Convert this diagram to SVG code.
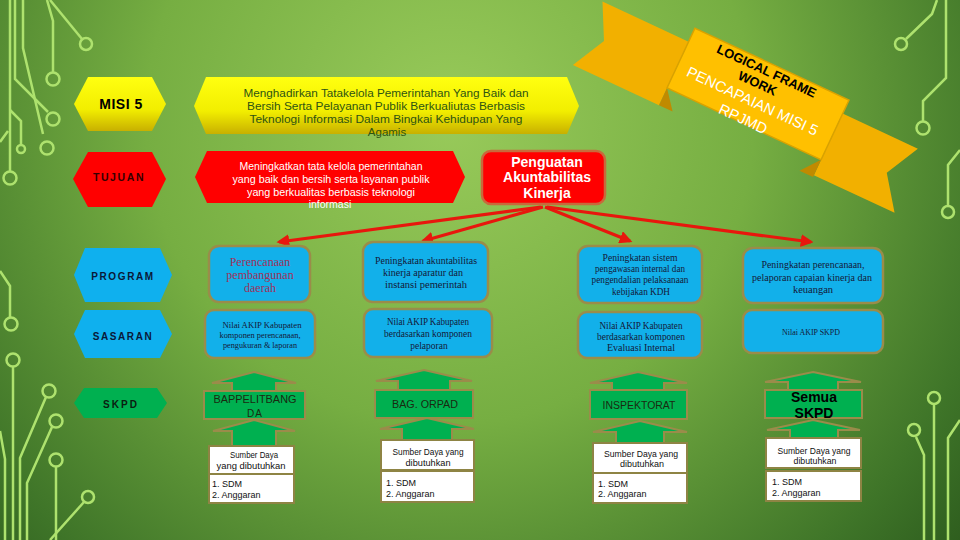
<svg xmlns="http://www.w3.org/2000/svg" width="960" height="540" viewBox="0 0 960 540">
<defs>
<radialGradient id="bg" cx="450" cy="120" r="760" gradientUnits="userSpaceOnUse">
<stop offset="0" stop-color="#98ca5a"/>
<stop offset="0.4" stop-color="#76ae42"/>
<stop offset="0.75" stop-color="#3e7428"/>
<stop offset="1" stop-color="#1e4614"/>
</radialGradient>
<linearGradient id="yel" x1="0" y1="0" x2="0" y2="1">
<stop offset="0" stop-color="#ffff10"/>
<stop offset="0.6" stop-color="#f2ee00"/>
<stop offset="1" stop-color="#c8b000"/>
</linearGradient>
<marker id="ah" viewBox="0 0 10 10" refX="8" refY="5" markerWidth="4" markerHeight="4" orient="auto" markerUnits="strokeWidth">
<path d="M0,0 L10,5 L0,10 z" fill="#e8170d"/>
</marker>
<style>
.cir{fill:none;stroke:#aee26e;stroke-width:2.5}
.lbl{font-family:"Liberation Sans",Arial,sans-serif;font-weight:bold;text-anchor:middle}
.sans{font-family:"Liberation Sans",Arial,sans-serif;text-anchor:middle}
.serif{font-family:"Liberation Serif","Times New Roman",serif;text-anchor:middle}
.blue{fill:#12b0ea;stroke:#9a8c4a;stroke-width:2.5}
.arr{fill:#00b050;stroke:#9a8c4a;stroke-width:2}
.wb{fill:#ffffff;stroke:#8e8444;stroke-width:2}
.red{stroke:#e8170d;stroke-width:3.2;fill:none}
.lst{font-family:"Liberation Sans",Arial,sans-serif;font-size:9px;fill:#111}
</style>
</defs>
<rect width="960" height="540" fill="url(#bg)"/>

<g id="circuit">
<path class="cir" d="M10,0 V171"/><circle class="cir" cx="10" cy="178" r="6.5"/>
<path class="cir" d="M23,0 V48 L43,134"/><circle class="cir" cx="47" cy="148" r="6.5"/>
<path class="cir" d="M15,0 V79 L48,112"/><circle class="cir" cx="53" cy="119" r="6.5"/>
<path class="cir" d="M47,0 L53,21 V72"/><circle class="cir" cx="53" cy="79" r="6.5"/>
<path class="cir" d="M50,0 L82,39"/><circle class="cir" cx="86" cy="44" r="6"/>
<path class="cir" d="M0,142 L8,131 M10,110 L21,121 V145"/><circle class="cir" cx="21" cy="149" r="4"/>
<path class="cir" d="M0,271 L10,286 V317"/><circle class="cir" cx="11" cy="324" r="6.5"/>
<circle class="cir" cx="13" cy="360" r="6.5"/><path class="cir" d="M13,367 V540"/>
<circle class="cir" cx="49" cy="391" r="6.5"/><path class="cir" d="M46,397 L20,458 V540"/>
<circle class="cir" cx="56" cy="421" r="6.5"/><path class="cir" d="M52,427 L27,483 V540"/>
<circle class="cir" cx="56" cy="460" r="6.5"/><path class="cir" d="M56,467 V540"/>
<circle class="cir" cx="88" cy="497" r="6"/><path class="cir" d="M84,502 L50,540"/>
<path class="cir" d="M0,431 L5,459 V540"/>
<path class="cir" d="M937,0 L932,14 L906,39"/><circle class="cir" cx="901" cy="44" r="6"/>
<path class="cir" d="M946,0 V78 L923,101 V121"/><circle class="cir" cx="923" cy="128" r="6.5"/>
<path class="cir" d="M960,150 L948,165 V205"/><circle class="cir" cx="948" cy="212" r="6"/>
<circle class="cir" cx="934" cy="398" r="6"/><path class="cir" d="M934,405 V540"/>
<circle class="cir" cx="914" cy="430" r="6"/><path class="cir" d="M916,437 L924,455 V540"/>
<path class="cir" d="M960,420 L948,438 V540"/>
</g>

<g id="banner" transform="translate(758,94) rotate(25)">
<path d="M-85,-18 H-180 L-162,17 L-180,52 H-85 z" fill="#f2b000"/>
<path d="M85,-18 H168 L150,17 L174,50 H85 z" fill="#f2b000"/>
<path d="M-85,33 L-85,52 L-70,52 z" fill="#c08a00"/>
<path d="M85,33 L85,52 L70,52 z" fill="#c08a00"/>
<rect x="-85" y="-33" width="170" height="66" fill="#ffc000" stroke="#d9a200" stroke-width="1.5"/>
<text x="-2" y="-20" class="lbl" font-size="13" fill="#000">LOGICAL FRAME</text>
<text x="-5" y="-5" class="lbl" font-size="13" fill="#000">WORK</text>
<text x="-2" y="14" class="sans" font-size="15" fill="#fff">PENCAPAIAN MISI 5</text>
<text x="-3" y="34" class="sans" font-size="15" fill="#fff">RPJMD</text>
</g>

<g id="labels">
<g id="lbl-misi"><polygon points="74,104 88,77 152,77 166,104 152,131 88,131" fill="url(#yel)"/><text x="121" y="109" class="lbl" font-size="14" letter-spacing="0.5" fill="#000">MISI 5</text></g>
<g id="lbl-tujuan"><polygon points="73,179 88,152 152,152 166,179 152,207 88,207" fill="#ff0000"/><text x="119" y="181" class="lbl" font-size="10.5" letter-spacing="1.6" fill="#300">TUJUAN</text></g>
<g id="lbl-program"><polygon points="74,275 85,248 160,248 172,275 160,302 85,302" fill="#0fb0ee"/><text x="123" y="280" class="lbl" font-size="10" letter-spacing="1.6" fill="#0a1838">PROGRAM</text></g>
<g id="lbl-sasaran"><polygon points="74,334 85,310 160,310 172,334 160,358 85,358" fill="#0fb0ee"/><text x="123" y="340" class="lbl" font-size="10" letter-spacing="1.6" fill="#0a1838">SASARAN</text></g>
<g id="lbl-skpd"><polygon points="74,403 84,388 157,388 167,403 157,418 84,418" fill="#00b050"/><text x="121" y="408" class="lbl" font-size="10" letter-spacing="2" fill="#0a2010">SKPD</text></g>
</g>

<g id="misi">
<polygon points="194,106 206,77 567,77 579,106 567,134 206,134" fill="url(#yel)"/>
<g class="sans" font-size="11.5" fill="#2e5412">
<text x="386" y="97" textLength="285" lengthAdjust="spacingAndGlyphs">Menghadirkan Tatakelola Pemerintahan Yang Baik dan</text>
<text x="386" y="110" textLength="278" lengthAdjust="spacingAndGlyphs">Bersih Serta Pelayanan Publik Berkualiutas Berbasis</text>
<text x="386" y="123" textLength="273" lengthAdjust="spacingAndGlyphs">Teknologi Informasi Dalam Bingkai Kehidupan Yang</text>
<text x="387" y="136">Agamis</text>
</g>
</g>

<g id="tujuan">
<polygon points="195,177 207,151 453,151 465,177 453,203 207,203" fill="#ff0000"/>
<g class="sans" font-size="10.5" fill="#fff">
<text x="331" y="170" textLength="183" lengthAdjust="spacingAndGlyphs">Meningkatkan tata kelola pemerintahan</text>
<text x="331" y="183" textLength="197" lengthAdjust="spacingAndGlyphs">yang baik dan bersih serta layanan publik</text>
<text x="331" y="196" textLength="168" lengthAdjust="spacingAndGlyphs">yang berkualitas berbasis teknologi</text>
<text x="330" y="208">informasi</text>
</g>
</g>

<g id="penguatan">
<rect x="482" y="151" width="123" height="53" rx="9" fill="#ff0000" stroke="#c86a3c" stroke-width="2.5"/>
<g class="lbl" font-size="14" fill="#fff">
<text x="547" y="167">Penguatan</text>
<text x="547" y="182">Akuntabilitas</text>
<text x="547" y="198">Kinerja</text>
</g>
</g>

<g id="connectors">
<line class="red" x1="541" y1="207" x2="279" y2="242" marker-end="url(#ah)"/>
<line class="red" x1="543" y1="207" x2="423" y2="241" marker-end="url(#ah)"/>
<line class="red" x1="545" y1="207" x2="630" y2="241" marker-end="url(#ah)"/>
<line class="red" x1="547" y1="207" x2="811" y2="242" marker-end="url(#ah)"/>
<g id="skpd-arrows">
<polygon class="arr" points="254,372 296,383 276,383 276,391 232,391 232,383 212,383"/>
<polygon class="arr" points="254,420 295,431 276,431 276,446 232,446 232,431 213,431"/>
<polygon class="arr" points="424,370 472,381 450,381 450,390 398,390 398,381 376,381"/>
<polygon class="arr" points="427,418 474,429 452,429 452,440 402,440 402,429 380,429"/>
<polygon class="arr" points="638,372 687,383 664,383 664,390 612,390 612,383 590,383"/>
<polygon class="arr" points="640,421 687,432 664,432 664,443 616,443 616,432 593,432"/>
<polygon class="arr" points="813,372 861,382 838,382 838,390 788,390 788,382 765,382"/>
<polygon class="arr" points="813,420 860,430 838,430 838,438 790,438 790,430 767,430"/>
</g>
</g>

<g id="prog1"><rect class="blue" x="209" y="246" width="101" height="56" rx="10"/>
<g class="serif" font-size="12" fill="#a0305a"><text x="260" y="266">Perencanaan</text><text x="260" y="279">pembangunan</text><text x="260" y="292">daerah</text></g></g>
<g id="prog2"><rect class="blue" x="363" y="242" width="125" height="60" rx="10"/>
<g class="serif" font-size="10.5" fill="#141838"><text x="426" y="264" textLength="102" lengthAdjust="spacingAndGlyphs">Peningkatan akuntabilitas</text><text x="423" y="276" textLength="80" lengthAdjust="spacingAndGlyphs">kinerja aparatur dan</text><text x="426" y="288" textLength="82" lengthAdjust="spacingAndGlyphs">instansi pemerintah</text></g></g>
<g id="prog3"><rect class="blue" x="578" y="246" width="124" height="57" rx="10"/>
<g class="serif" font-size="9.5" fill="#141838"><text x="640" y="261" textLength="75" lengthAdjust="spacingAndGlyphs">Peningkatan sistem</text><text x="640" y="272" textLength="90" lengthAdjust="spacingAndGlyphs">pengawasan internal dan</text><text x="640" y="283" textLength="97" lengthAdjust="spacingAndGlyphs">pengendalian pelaksanaan</text><text x="641" y="295" textLength="58" lengthAdjust="spacingAndGlyphs">kebijakan KDH</text></g></g>
<g id="prog4"><rect class="blue" x="743" y="248" width="140" height="55" rx="10"/>
<g class="serif" font-size="10.5" fill="#141838"><text x="813" y="268" textLength="103" lengthAdjust="spacingAndGlyphs">Peningkatan perencanaan,</text><text x="812" y="281" textLength="120" lengthAdjust="spacingAndGlyphs">pelaporan capaian kinerja dan</text><text x="813" y="293">keuangan</text></g></g>

<g id="sas1"><rect class="blue" x="205" y="310" width="110" height="48" rx="9"/>
<g class="serif" font-size="9" fill="#141838"><text x="262" y="328" textLength="79" lengthAdjust="spacingAndGlyphs">Nilai AKIP Kabupaten</text><text x="260" y="338" textLength="81" lengthAdjust="spacingAndGlyphs">komponen perencanaan,</text><text x="260" y="348" textLength="74" lengthAdjust="spacingAndGlyphs">pengukuran &amp; laporan</text></g></g>
<g id="sas2"><rect class="blue" x="364" y="309" width="128" height="48" rx="9"/>
<g class="serif" font-size="9.5" fill="#141838"><text x="428" y="325" textLength="82" lengthAdjust="spacingAndGlyphs">Nilai AKIP Kabupaten</text><text x="428" y="337" textLength="88" lengthAdjust="spacingAndGlyphs">berdasarkan komponen</text><text x="429" y="349">pelaporan</text></g></g>
<g id="sas3"><rect class="blue" x="578" y="312" width="124" height="46" rx="9"/>
<g class="serif" font-size="9.5" fill="#141838"><text x="641" y="329" textLength="83" lengthAdjust="spacingAndGlyphs">Nilai AKIP Kabupaten</text><text x="641" y="340" textLength="88" lengthAdjust="spacingAndGlyphs">berdasarkan komponen</text><text x="641" y="351" textLength="68" lengthAdjust="spacingAndGlyphs">Evaluasi Internal</text></g></g>
<g id="sas4"><rect class="blue" x="743" y="310" width="140" height="43" rx="9"/>
<text x="811" y="335" class="serif" font-size="9" fill="#141838" textLength="58" lengthAdjust="spacingAndGlyphs">Nilai AKIP SKPD</text></g>

<g id="skpd1"><rect class="arr" x="204" y="391" width="101" height="28"/>
<g class="sans" font-size="10" fill="#1a2a10"><text x="255" y="403" textLength="83" lengthAdjust="spacingAndGlyphs">BAPPELITBANG</text><text x="255" y="417" letter-spacing="1">DA</text></g></g>
<g id="skpd2"><rect class="arr" x="375" y="390" width="98" height="28"/>
<text x="425" y="408" class="sans" font-size="10" fill="#1a2a10" textLength="66" lengthAdjust="spacingAndGlyphs">BAG. ORPAD</text></g>
<g id="skpd3"><rect class="arr" x="590" y="390" width="97" height="29"/>
<text x="639" y="409" class="sans" font-size="10" fill="#1a2a10" textLength="73" lengthAdjust="spacingAndGlyphs">INSPEKTORAT</text></g>
<g id="skpd4"><rect class="arr" x="765" y="390" width="97" height="28"/>
<g class="lbl" font-size="14" fill="#000"><text x="814" y="402">Semua</text><text x="814" y="418">SKPD</text></g></g>

<g id="res1"><rect class="wb" x="209" y="446" width="85" height="28"/><rect class="wb" x="209" y="474" width="85" height="29"/>
<g class="sans" font-size="9" fill="#111"><text x="254" y="458" textLength="48" lengthAdjust="spacingAndGlyphs">Sumber Daya</text><text x="251" y="469" textLength="69" lengthAdjust="spacingAndGlyphs">yang dibutuhkan</text></g>
<text class="lst" x="212" y="487">1. SDM</text><text class="lst" x="212" y="498">2. Anggaran</text></g>
<g id="res2"><rect class="wb" x="381" y="440" width="93" height="30"/><rect class="wb" x="381" y="471" width="93" height="31"/>
<g class="sans" font-size="9" fill="#111"><text x="428" y="455" textLength="71" lengthAdjust="spacingAndGlyphs">Sumber Daya yang</text><text x="428" y="466" textLength="45" lengthAdjust="spacingAndGlyphs">dibutuhkan</text></g>
<text class="lst" x="386" y="486">1. SDM</text><text class="lst" x="386" y="497">2. Anggaran</text></g>
<g id="res3"><rect class="wb" x="593" y="443" width="94" height="30"/><rect class="wb" x="593" y="473" width="94" height="30"/>
<g class="sans" font-size="9" fill="#111"><text x="641" y="457" textLength="74" lengthAdjust="spacingAndGlyphs">Sumber Daya yang</text><text x="642" y="467" textLength="44" lengthAdjust="spacingAndGlyphs">dibutuhkan</text></g>
<text class="lst" x="598" y="487">1. SDM</text><text class="lst" x="598" y="497">2. Anggaran</text></g>
<g id="res4"><rect class="wb" x="766" y="438" width="95" height="30"/><rect class="wb" x="766" y="471" width="95" height="30"/>
<g class="sans" font-size="9" fill="#111"><text x="814" y="454" textLength="73" lengthAdjust="spacingAndGlyphs">Sumber Daya yang</text><text x="815" y="464" textLength="43" lengthAdjust="spacingAndGlyphs">dibutuhkan</text></g>
<text class="lst" x="772" y="485">1. SDM</text><text class="lst" x="772" y="496">2. Anggaran</text></g>
</svg>
